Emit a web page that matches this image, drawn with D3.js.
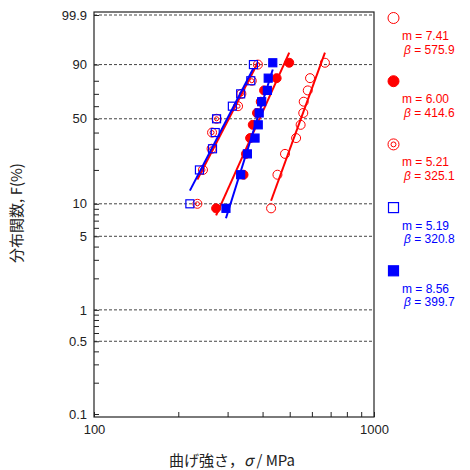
<!DOCTYPE html>
<html>
<head>
<meta charset="utf-8">
<script src="https://cdn.jsdelivr.net/npm/d3@7"></script>
<style>
  body { margin: 0; background: #fff; }
  text { font-family: "Liberation Sans", Arial, sans-serif; }
  .jp { font-family: "Noto Sans CJK JP", sans-serif; }
</style>
</head>
<body>
<script>
// bending strength of each specimen, MPa
const sigma1 = [429, 452, 481, 527, 547, 559, 561, 580, 591, 668]
const sigma2 = [273, 342, 349, 361, 369, 382, 394, 405, 449, 498]
const sigma3 = [234, 245, 263, 264, 274, 327, 336, 366, 385]
const sigma4 = [220, 238, 265, 271, 274, 312, 334, 363, 371]
const sigma5 = [296, 334, 353, 376, 386, 389, 397, 416, 419, 435]
const mValues = [7.41, 6.00, 5.21, 5.19, 8.56]
const betaValues = [575.9, 414.6, 325.1, 320.8, 399.7]

const yMajor = [99.9, 90, 50, 10, 5, 1, 0.5, 0.1]
const yMinor = [80, 70, 60, 40, 30, 20, 9, 8, 7, 6, 4, 3, 2, 0.9, 0.8, 0.7, 0.6, 0.4, 0.3, 0.2]
const yGrid = [99.9, 90, 50, 10, 5, 1, 0.5]
const xTicks = [100, 200, 300, 400, 500, 600, 700, 800, 900, 1000]
const xLabels = [100, 1000]

const series = [sigma1, sigma2, sigma3, sigma4, sigma5]
const colors = ["#ff0000", "#ff0000", "#ff0000", "#0000ff", "#0000ff"]
const markers = ["circleOpen", "circleFilled", "circleDouble", "squareOpen", "squareFilled"]

const W = 470, H = 470
const plotL = 94, plotR = 374, plotT = 12, plotB = 417

// Weibull probability transform
const wb = (p) => Math.log(-Math.log(1 - p / 100))

const x = d3.scaleLog().domain([100, 1000]).range([plotL, plotR])
const y = d3.scaleLinear().domain([wb(0.1), wb(99.9)]).range([414, 15])

const svg = d3.select("body")
  .append("svg")
    .attr("width", W)
    .attr("height", H)

svg.append("g")
  .selectAll("line")
  .data(yGrid)
  .enter()
    .append("line")
    .attr("x1", plotL)
    .attr("x2", plotR)
    .attr("y1", (d) => y(wb(d)))
    .attr("y2", (d) => y(wb(d)))
    .attr("stroke", "#444")
    .attr("stroke-dasharray", "3,2")
    .attr("stroke-width", 1)

// y axis, ticks drawn inwards
const yAxis = d3.axisLeft(y)
  .tickValues(yMajor.concat(yMinor).map(wb))
  .tickSize(-5)
  .tickPadding(7)
  .tickFormat((v) => {
    const p = yMajor.find((q) => Math.abs(wb(q) - v) < 1e-9)
    return p === undefined ? "" : String(p)
  })

const gy = svg.append("g")
  .attr("transform", `translate(${plotL},0)`)
  .call(yAxis)
gy.select(".domain").remove()
gy.selectAll("text").attr("font-size", 13).attr("fill", "#222")
  .style("font-family", "Liberation Sans, Arial, sans-serif")
gy.selectAll("line").attr("stroke", "#222")

const xAxis = d3.axisBottom(x)
  .tickValues(xTicks)
  .tickSize(-5)
  .tickPadding(8)
  .tickFormat((d) => xLabels.includes(d) ? String(d) : "")

const gx = svg.append("g")
  .attr("transform", `translate(0,${plotB})`)
  .call(xAxis)
gx.select(".domain").remove()
gx.selectAll("text").attr("font-size", 13).attr("fill", "#222")
  .style("font-family", "Liberation Sans, Arial, sans-serif")
gx.selectAll("line").attr("stroke", "#222")

svg.append("rect")
  .attr("x", plotL)
  .attr("y", plotT)
  .attr("width", plotR - plotL)
  .attr("height", plotB - plotT)
  .attr("fill", "none")
  .attr("stroke", "#222")
  .attr("stroke-width", 1.2)

function drawMarker(g, kind, color, cx, cy, s) {
  if (kind.startsWith("circle")) {
    g.append("circle")
      .attr("cx", cx).attr("cy", cy).attr("r", s)
      .attr("fill", kind === "circleFilled" ? color : "none")
      .attr("stroke", color)
      .attr("stroke-width", 1)
    if (kind === "circleDouble") {
      g.append("circle")
        .attr("cx", cx).attr("cy", cy).attr("r", s * 0.45)
        .attr("fill", "none")
        .attr("stroke", color)
        .attr("stroke-width", 1)
    }
  } else {
    g.append("rect")
      .attr("x", cx - s).attr("y", cy - s)
      .attr("width", 2 * s).attr("height", 2 * s)
      .attr("fill", kind === "squareFilled" ? color : "none")
      .attr("stroke", color)
      .attr("stroke-width", 1.2)
  }
}

const plot = svg.append("g")

series.forEach((data, k) => {
  const n = data.length
  const m = mValues[k], beta = betaValues[k]
  // fitted line from weakest to strongest specimen
  const ends = d3.extent(data)
  plot.append("line")
    .attr("x1", x(ends[0]))
    .attr("y1", y(m * Math.log(ends[0] / beta)))
    .attr("x2", x(ends[1]))
    .attr("y2", y(m * Math.log(ends[1] / beta)))
    .attr("stroke", colors[k])
    .attr("stroke-width", 2)

  // mean rank plotting position i/(n+1)
  data.forEach((s, i) => {
    const F = 100 * (i + 1) / (n + 1)
    const r = markers[k].startsWith("circle") ? 4.5 : 4
    drawMarker(plot, markers[k], colors[k], x(s), y(wb(F)), r)
  })
})

// legend
const legend = svg.append("g")
series.forEach((data, k) => {
  const cy = 18 + 63.2 * k
  const r = markers[k].startsWith("circle") ? 5.5 : 5
  drawMarker(legend, markers[k], colors[k], 393.5, cy, r)
  legend.append("text")
    .attr("x", 402)
    .attr("y", cy + 22)
    .attr("font-size", 12)
    .attr("fill", colors[k])
    .text("m = " + mValues[k].toFixed(2))
  const t = legend.append("text")
    .attr("x", 404)
    .attr("y", cy + 35.5)
    .attr("font-size", 12)
    .attr("fill", colors[k])
  t.append("tspan").attr("font-style", "italic").text("β")
  t.append("tspan").text(" = " + betaValues[k].toFixed(1))
})

svg.append("text")
  .attr("class", "jp")
  .attr("transform", "translate(22,213) rotate(-90)")
  .attr("text-anchor", "middle")
  .attr("font-size", 15)
  .attr("fill", "#222")
  .text("分布関数, F(%)")

const xl = svg.append("text")
  .attr("class", "jp")
  .attr("x", 232)
  .attr("y", 466)
  .attr("text-anchor", "middle")
  .attr("font-size", 15)
  .attr("fill", "#222")
xl.append("tspan").text("曲げ強さ，")
xl.append("tspan").attr("font-style", "italic").text("σ")
xl.append("tspan").text(" / MPa")
</script>
</body>
</html>
